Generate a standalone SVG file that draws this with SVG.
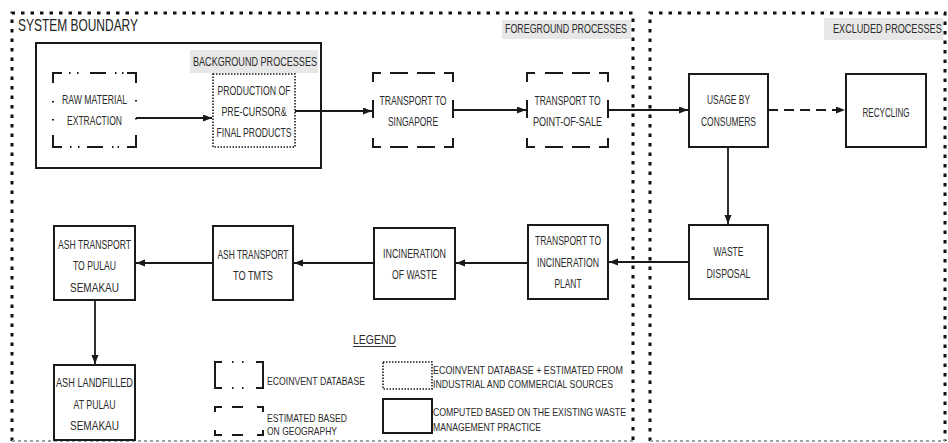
<svg xmlns="http://www.w3.org/2000/svg" width="948" height="443" viewBox="0 0 948 443">
<defs>
<style>
.bg{fill:#ffffff}
.bnd{fill:none;stroke:#111;stroke-width:3;stroke-dasharray:3.5 6}
.bndb{fill:none;stroke:#a0a0a0;stroke-width:2;stroke-dasharray:3 3}
.solid{fill:#fff;stroke:#1a1a1a;stroke-width:2}
.dash{fill:none;stroke:#1a1a1a;stroke-width:2}
.dot{fill:#fff;stroke:#1a1a1a;stroke-width:1.6;stroke-dasharray:1.5 1.5}
.lbl{fill:#e7e7e7}
text{font-family:"Liberation Sans",Arial,sans-serif;fill:#2b2b2b}
.t{font-size:13.5px;text-anchor:middle}
.h{font-size:13px}
.big{font-size:17px;fill:#222}
.lg{font-size:11px}
.edge{fill:none;stroke:#1a1a1a;stroke-width:1.8}
</style>
<marker id="ah" markerWidth="10" markerHeight="8" refX="9" refY="3.5" orient="auto" markerUnits="userSpaceOnUse">
<path d="M0,0 L9,3.5 L0,7 z" fill="#1a1a1a"/>
</marker>
</defs>
<rect class="bg" x="0" y="0" width="948" height="443"/>

<g id="boundaries">
<path class="bnd" d="M12,441 V13 H633 V441"/>
<path class="bndb" d="M12,441 H633"/>
<path class="bnd" d="M650,441 V13 H945 V441"/>
<path class="bndb" d="M650,441 H945"/>
<text class="big" x="18" y="31" textLength="120" lengthAdjust="spacingAndGlyphs">SYSTEM BOUNDARY</text>
<rect class="lbl" x="502" y="20" width="129" height="19"/>
<text class="h" x="505" y="33" textLength="122" lengthAdjust="spacingAndGlyphs">FOREGROUND PROCESSES</text>
<rect class="lbl" x="824" y="18" width="119" height="22"/>
<text class="h" transform="translate(833,33) scale(0.7,1)" x="0" y="0">EXCLUDED PROCESSES</text>
</g>

<g id="background-processes">
<rect class="solid" x="36" y="43" width="285" height="125" fill="none"/>
<rect class="lbl" x="190" y="50" width="128" height="23"/>
<text class="h" x="193" y="66" textLength="124" lengthAdjust="spacingAndGlyphs">BACKGROUND PROCESSES</text>
</g>

<g id="raw-material-extraction">
<path class="dash" d="M53,83 V73 H62 M69,73 H70.5 M77,73 H78.5 M90,73 H106 M115,73 H116.5 M122,73 H123.5 M127,73 H136 V83 M136,100 V101.5 M136,118 V119.5 M136,135 V147 H127 M119,147 H117.5 M112,147 H113.5 M87,147 H103 M78,147 H79.5 M70,147 H71.5 M62,147 H53 V135 M53,119 V120.5 M53,101 V102.5"/>
<text class="t" x="94.5" y="104" textLength="65" lengthAdjust="spacingAndGlyphs">RAW MATERIAL</text>
<text class="t" x="94.5" y="125" textLength="55" lengthAdjust="spacingAndGlyphs">EXTRACTION</text>
</g>

<g id="production">
<rect class="dot" x="213" y="74" width="82" height="73"/>
<text class="t" x="254" y="95" textLength="73" lengthAdjust="spacingAndGlyphs">PRODUCTION OF</text>
<text class="t" x="254" y="116" textLength="65" lengthAdjust="spacingAndGlyphs">PRE-CURSOR&amp;</text>
<text class="t" x="254" y="137" textLength="75" lengthAdjust="spacingAndGlyphs">FINAL PRODUCTS</text>
</g>

<g id="transport-singapore">
<path class="dash" d="M373,82 V73 H381 M390,73 H408 M417,73 H435 M444,73 H453 V82 M453,100 V118 M453,138 V147 H444 M435,147 H417 M408,147 H390 M381,147 H373 V138 M373,100 V118"/>
<text class="t" x="413" y="105" textLength="67" lengthAdjust="spacingAndGlyphs">TRANSPORT TO</text>
<text class="t" x="413" y="126" textLength="50" lengthAdjust="spacingAndGlyphs">SINGAPORE</text>
</g>

<g id="transport-pos">
<path class="dash" d="M527,82 V73 H535 M545,73 H563 M572,73 H590 M599,73 H608 V82 M608,100 V118 M608,138 V147 H599 M590,147 H572 M563,147 H545 M535,147 H527 V138 M527,100 V118"/>
<text class="t" x="567.5" y="105" textLength="66" lengthAdjust="spacingAndGlyphs">TRANSPORT TO</text>
<text class="t" x="567.5" y="126" textLength="69" lengthAdjust="spacingAndGlyphs">POINT-OF-SALE</text>
</g>

<g id="usage">
<rect class="solid" x="689" y="74" width="79" height="73"/>
<text class="t" x="728.5" y="104" textLength="43" lengthAdjust="spacingAndGlyphs">USAGE BY</text>
<text class="t" x="728.5" y="126" textLength="55" lengthAdjust="spacingAndGlyphs">CONSUMERS</text>
</g>

<g id="recycling">
<rect class="solid" x="846" y="74" width="80" height="73"/>
<text class="t" x="886" y="117" textLength="47" lengthAdjust="spacingAndGlyphs">RECYCLING</text>
</g>

<g id="waste-disposal">
<rect class="solid" x="689" y="225" width="79" height="74"/>
<text class="t" x="728.5" y="256" textLength="30" lengthAdjust="spacingAndGlyphs">WASTE</text>
<text class="t" x="728.5" y="278" textLength="44" lengthAdjust="spacingAndGlyphs">DISPOSAL</text>
</g>

<g id="transport-incineration">
<rect class="solid" x="528" y="225" width="80" height="74"/>
<text class="t" x="568" y="245" textLength="66" lengthAdjust="spacingAndGlyphs">TRANSPORT TO</text>
<text class="t" x="568" y="267" textLength="62" lengthAdjust="spacingAndGlyphs">INCINERATION</text>
<text class="t" x="568" y="288" textLength="27" lengthAdjust="spacingAndGlyphs">PLANT</text>
</g>

<g id="incineration">
<rect class="solid" x="374" y="228" width="81" height="71"/>
<text class="t" x="414.5" y="258" textLength="63" lengthAdjust="spacingAndGlyphs">INCINERATION</text>
<text class="t" x="414.5" y="279" textLength="45" lengthAdjust="spacingAndGlyphs">OF WASTE</text>
</g>

<g id="ash-transport-tmts">
<rect class="solid" x="213" y="226" width="80" height="74"/>
<text class="t" x="253" y="259" textLength="71" lengthAdjust="spacingAndGlyphs">ASH TRANSPORT</text>
<text class="t" x="253" y="280" textLength="40" lengthAdjust="spacingAndGlyphs">TO TMTS</text>
</g>

<g id="ash-transport-pulau">
<rect class="solid" x="54" y="226" width="81" height="74"/>
<text class="t" x="94.5" y="249" textLength="73" lengthAdjust="spacingAndGlyphs">ASH TRANSPORT</text>
<text class="t" x="94.5" y="270" textLength="43" lengthAdjust="spacingAndGlyphs">TO PULAU</text>
<text class="t" x="94.5" y="292" textLength="49" lengthAdjust="spacingAndGlyphs">SEMAKAU</text>
</g>

<g id="ash-landfilled">
<rect class="solid" x="54" y="365" width="81" height="75"/>
<text class="t" x="94.5" y="387" textLength="77" lengthAdjust="spacingAndGlyphs">ASH LANDFILLED</text>
<text class="t" x="94.5" y="409" textLength="42" lengthAdjust="spacingAndGlyphs">AT PULAU</text>
<text class="t" x="94.5" y="430" textLength="49" lengthAdjust="spacingAndGlyphs">SEMAKAU</text>
</g>

<g id="connectors">
<path class="edge" d="M136,118 H212" marker-end="url(#ah)"/>
<path class="edge" d="M295,111 H372" marker-end="url(#ah)"/>
<path class="edge" d="M453,110 H526" marker-end="url(#ah)"/>
<path class="edge" d="M608,110 H688" marker-end="url(#ah)"/>
<path class="edge" d="M768,110 H845" stroke-dasharray="10 6" marker-end="url(#ah)"/>
<path class="edge" d="M728,147 V224" marker-end="url(#ah)"/>
<path class="edge" d="M689,262 H609" marker-end="url(#ah)"/>
<path class="edge" d="M528,263 H456" marker-end="url(#ah)"/>
<path class="edge" d="M374,263 H294" marker-end="url(#ah)"/>
<path class="edge" d="M213,263 H136" marker-end="url(#ah)"/>
<path class="edge" d="M95,300 V364" marker-end="url(#ah)"/>
</g>

<g id="legend">
<text class="h" x="353" y="344" textLength="43" lengthAdjust="spacingAndGlyphs">LEGEND</text>
<path d="M353,346.5 H396" stroke="#333" stroke-width="1"/>
<path class="dash" d="M222,362 H215 V388 H222 M232,362 H233.5 M242,362 H243.5 M232,388 H233.5 M242,388 H243.5 M256,362 H263 V388 H256"/>
<text class="lg" x="267" y="385" textLength="98" lengthAdjust="spacingAndGlyphs">ECOINVENT DATABASE</text>
<path class="dash" d="M215,412 V407 H222 M232,407 H243 M257,407 H263 V412 M263,430 V435 H257 M243,435 H232 M222,435 H215 V430"/>
<text class="lg" x="267" y="422" textLength="80" lengthAdjust="spacingAndGlyphs">ESTIMATED BASED</text>
<text class="lg" x="267" y="435" textLength="70" lengthAdjust="spacingAndGlyphs">ON GEOGRAPHY</text>
<rect class="dot" x="383" y="362" width="49" height="27"/>
<text class="lg" x="433" y="374" textLength="190" lengthAdjust="spacingAndGlyphs">ECOINVENT DATABASE +  ESTIMATED FROM</text>
<text class="lg" x="433" y="388" textLength="180" lengthAdjust="spacingAndGlyphs">INDUSTRIAL AND COMMERCIAL SOURCES</text>
<rect class="solid" x="383" y="399" width="49" height="34"/>
<text class="lg" x="433" y="416" textLength="193" lengthAdjust="spacingAndGlyphs">COMPUTED BASED ON THE EXISTING WASTE</text>
<text class="lg" x="433" y="431" textLength="108" lengthAdjust="spacingAndGlyphs">MANAGEMENT PRACTICE</text>
</g>
</svg>
